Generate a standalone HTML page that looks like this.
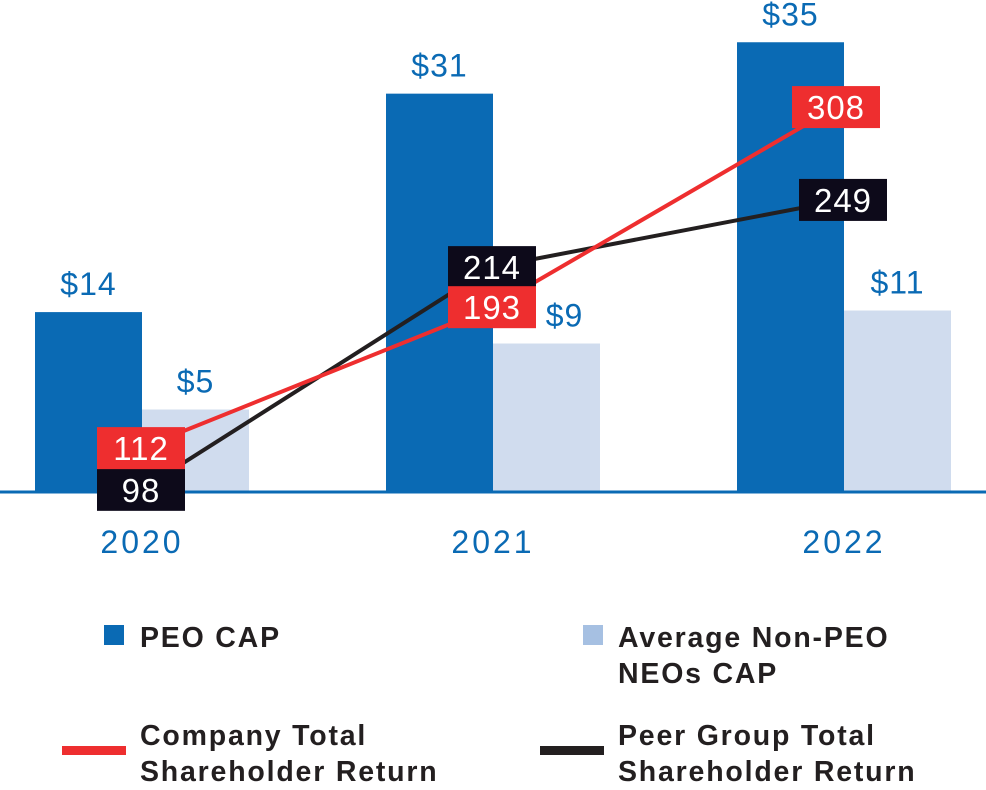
<!DOCTYPE html>
<html><head><meta charset="utf-8"><style>
body{margin:0;background:#fff;}
svg{display:block;font-family:"Liberation Sans",sans-serif;}
</style></head><body>
<svg id="chart" width="986" height="790" viewBox="0 0 986 790">
<g id="bars"></g>
<line x1="0" x2="986" y1="492" y2="492" stroke="#0a6ab4" stroke-width="3"/>
<g id="lines"></g>
<g id="labels"></g>
<g font-weight="bold" font-size="28.5" letter-spacing="1.8" fill="#231f20">
 <rect x="104" y="625" width="20" height="20" fill="#0a6ab4"/>
 <text x="140" y="647">PEO CAP</text>
 <rect x="583" y="625" width="20" height="20" fill="#a6c0e2"/>
 <text x="618" y="647"><tspan x="618">Average Non-PEO</tspan><tspan x="618" dy="36">NEOs CAP</tspan></text>
 <rect x="62" y="746" width="64" height="9" fill="#ee2e2f"/>
 <text x="140" y="745"><tspan x="140">Company Total</tspan><tspan x="140" dy="36">Shareholder Return</tspan></text>
 <rect x="540" y="746" width="64" height="9" fill="#231f20"/>
 <text x="618" y="745"><tspan x="618">Peer Group Total</tspan><tspan x="618" dy="36">Shareholder Return</tspan></text>
</g>
</svg>
<script>
const years = ["2020","2021","2022"];
const peoCap = [14, 31, 35];
const nonPeoCap = [5, 9, 11];
const companyTsr = [112, 193, 308];
const peerTsr = [98, 214, 249];

const NS="http://www.w3.org/2000/svg";
function mk(tag, attrs, parent){const e=document.createElementNS(NS,tag);for(const k in attrs)e.setAttribute(k,attrs[k]);parent.appendChild(e);return e;}
const groupX=[35,386,737], barW=107;
function xPeo(i){return groupX[i];}
function xNon(i){return groupX[i]+barW;}
function yPeo(v){return 492-v*12.85;}
function yNon(v){return 492-v*16.5;}
function yComp(v){return 643-1.74*v;}
function yPeer(v){return 678-1.92*v;}
function xComp(i){return [141,492,836][i];}
function xPeer(i){return [141,492,843][i];}
const bars=document.getElementById('bars'), lines=document.getElementById('lines'), labels=document.getElementById('labels');
peoCap.forEach((v,i)=>{
 const r=mk('rect',{x:xPeo(i),y:yPeo(v),width:barW,height:492-yPeo(v),fill:'#0a6ab4'},bars);
 
 
 const t=mk('text',{x:xPeo(i)+barW/2,y:yPeo(v)-17,'text-anchor':'middle','font-size':32,'letter-spacing':1,fill:'#0a6ab4'},labels);
 t.textContent='$'+v;
 
 
});
nonPeoCap.forEach((v,i)=>{
 const r=mk('rect',{x:xNon(i),y:yNon(v),width:barW,height:492-yNon(v),fill:'#d0dcee'},bars);
 
 
 const cx=xNon(i)+barW/2+(i===1?18:0);
 const t=mk('text',{x:cx,y:yNon(v)-17,'text-anchor':'middle','font-size':32,'letter-spacing':1,fill:'#0a6ab4'},labels);
 t.textContent='$'+v;
 
 
});
years.forEach((y,i)=>{
 const t=mk('text',{x:groupX[i]+barW,y:553,'text-anchor':'middle','font-size':32,'letter-spacing':3,fill:'#0a6ab4'},labels);
 t.textContent=y;
 
 
});
function series(vals,xf,yf,color,name,boxColor){
 const pts=vals.map((v,i)=>xf(i)+','+yf(v)).join(' ');
 const pl=mk('polyline',{points:pts,fill:'none',stroke:color,'stroke-width':4},lines);
 
 
 vals.forEach((v,i)=>{
  const b=mk('rect',{x:xf(i)-44,y:yf(v)-21,width:88,height:42,fill:boxColor},labels);
  
  
  const t=mk('text',{x:xf(i),y:yf(v)+12,'text-anchor':'middle','font-size':33,'letter-spacing':1,fill:'#fff'},labels);
  t.textContent=v;
  
  
 });
}
series(peerTsr,xPeer,yPeer,'#231f20','peer-tsr','#0d0a1a');
series(companyTsr,xComp,yComp,'#ee2e2f','company-tsr','#ee2e2f');
</script>
</body></html>
